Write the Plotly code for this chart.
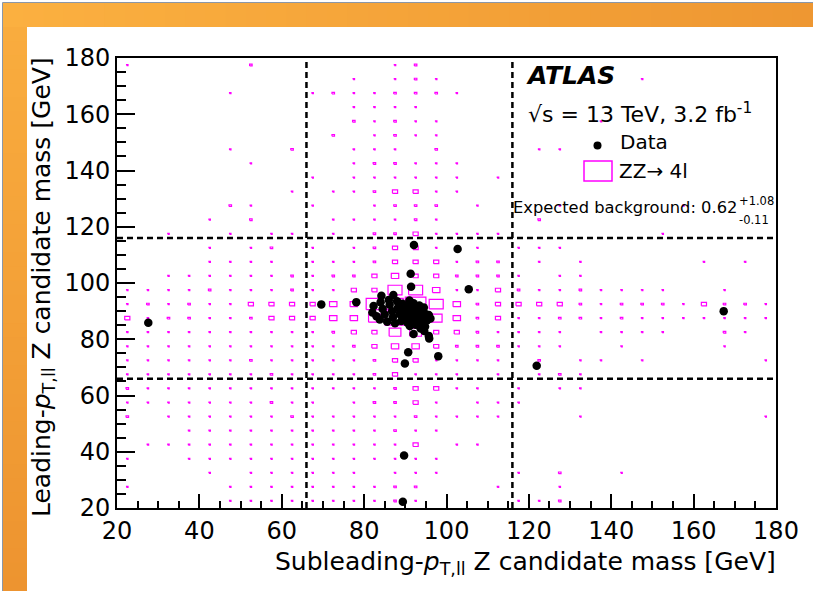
import math
import plotly.graph_objects as go

# ---------------- data ----------------
bin_lo = 20.0
bin_width = 5.0
n_bins = 32
bin_centers = [bin_lo + bin_width * (k + 0.5) for k in range(n_bins)]

# ZZ -> 4l expectation, box-level per (x,y) bin; rows listed from top (y=177.5) to bottom (y=22.5)
zz_grid = [
    "20000030" "00000230" "00000000" "00000000",
    "00000000" "00020232" "00000000" "02000000",
    "00000200" "02322333" "20000000" "00000000",
    "00000000" "00022220" "00000000" "00000000",
    "00000000" "00032322" "00000002" "00000000",
    "00000000" "00302322" "00000000" "00000000",
    "00000200" "30022203" "00002200" "00000000",
    "00000020" "00023322" "20000000" "00000000",
    "00000000" "02022222" "20200000" "00000000",
    "00000000" "20223442" "20000000" "00000000",
    "00000320" "02002333" "02000200" "00020000",
    "00002030" "00222232" "00003000" "00000000",
    "00200202" "20203342" "22200000" "00200000",
    "00002023" "02023442" "22022200" "00000000",
    "00002222" "02223444" "23302020" "00002020",
    "00222222" "32334544" "33320220" "00000000",
    "22223222" "32244775" "22432232" "22200200",
    "23232244" "44558897" "53444432" "33324332",
    "42332234" "44556986" "53422332" "32222222",
    "22222222" "22344664" "43222202" "22200320",
    "22222222" "22234554" "33322200" "20000200",
    "22222232" "22223442" "22203022" "02000002",
    "22222223" "22223422" "20202320" "00000000",
    "32222222" "22222344" "22020220" "00000000",
    "22222223" "22023342" "02220000" "00000000",
    "30222222" "32222232" "22200020" "00000002",
    "00022222" "22222322" "00000000" "00000000",
    "02222222" "22222240" "22000000" "00000000",
    "20022222" "22222222" "00000000" "00000000",
    "00002022" "22220222" "00020300" "20000000",
    "20000222" "22222330" "00200200" "00000000",
    "00000222" "22222320" "00022300" "00000000",
]
# expected content for each level index
zz_level_content = [0.0, 0.01, 0.02, 0.06, 0.25, 0.52, 1.3, 1.85, 2.56, 4.0]

data_x = [27.6, 69.6, 78.1, 92.1, 102.7, 105.4, 91.3, 91.4, 84.2, 87.1, 167.3, 121.9,
          89.7, 89.4, 91.1, 92.0, 93.7, 94.8, 94.6, 95.7, 95.8, 90.7, 89.9, 98.0,
          82.3, 82.0, 83.0, 83.8, 84.5, 85.0, 85.6, 86.2, 86.8, 87.0, 87.5, 88.2, 88.6,
          89.0, 89.3, 89.8, 90.2, 90.5, 90.9, 91.3, 91.6, 92.0, 92.4, 92.7, 93.0, 93.4,
          93.8, 94.2, 94.5, 94.9, 95.3, 95.7, 96.1, 88.0, 91.0, 86.0, 84.0, 92.5, 94.0]
data_y = [85.9, 92.4, 93.2, 113.5, 112.1, 97.8, 103.3, 98.7, 95.5, 95.7, 90.0, 70.6,
          38.7, 22.2, 84.7, 81.9, 83.8, 84.5, 82.9, 81.2, 80.3, 75.4, 71.4, 74.0,
          91.8, 89.5, 88.2, 87.0, 90.8, 88.8, 86.2, 92.3, 90.0, 87.8, 85.7, 91.2, 89.0,
          86.5, 92.6, 90.4, 88.0, 85.9, 91.8, 89.6, 87.3, 92.8, 90.9, 88.6, 86.4, 92.0,
          89.9, 87.7, 91.3, 89.0, 86.8, 88.6, 87.4, 93.5, 93.8, 94.0, 93.2, 85.2, 85.5]

mass_cuts = [66, 116]
x_range = [20, 180]
y_range = [20, 180]

# ---------------- figure ----------------
W, H = 813, 591
PL, PR, PT, PB = 117, 776, 58, 508
FONT = "DejaVu Sans"


def px_x(px):
    return (px - PL) / (PR - PL)


def px_y(py):
    return (PB - py) / (PB - PT)


fig = go.Figure()

# ZZ boxes
zmax = max(zz_level_content)
bx, by = [], []
n_rows = len(zz_grid)
for r, row in enumerate(zz_grid):
    jy = n_rows - 1 - r
    for ix, ch in enumerate(row):
        lev = int(ch)
        c = zz_level_content[lev]
        if c <= 0:
            continue
        f = math.sqrt(c / zmax)
        hx = 0.5 * bin_width * f
        xc, yc = bin_centers[ix], bin_centers[jy]
        bx += [xc - hx, xc + hx, xc + hx, xc - hx, xc - hx, None]
        by += [yc - hx, yc - hx, yc + hx, yc + hx, yc - hx, None]

fig.add_trace(go.Scatter(x=bx, y=by, mode="lines", line=dict(color="#FF00FF", width=1.2),
                         hoverinfo="skip", showlegend=False))

fig.add_trace(go.Scatter(x=data_x, y=data_y, mode="markers",
                         marker=dict(color="black", size=8.5, line=dict(width=0)),
                         showlegend=False))

shapes = []
# orange slide frame
top_c0 = (251, 176, 64)
top_c1 = (238, 151, 50)
nst = 40
for k in range(nst):
    t = k / (nst - 1)
    col = "rgb(%d,%d,%d)" % tuple(round(a + (b - a) * t) for a, b in zip(top_c0, top_c1))
    x0 = 3 + (W - 3) * k / nst
    x1 = 3 + (W - 3) * (k + 1) / nst + 1
    shapes.append(dict(type="rect", xref="paper", yref="paper", layer="below",
                       x0=px_x(x0), x1=px_x(x1), y0=px_y(27), y1=px_y(3),
                       line=dict(width=0), fillcolor=col))
left_c0 = (249, 172, 62)
left_c1 = (237, 148, 48)
for k in range(nst):
    t = k / (nst - 1)
    col = "rgb(%d,%d,%d)" % tuple(round(a + (b - a) * t) for a, b in zip(left_c0, left_c1))
    y0 = 27 + (H - 27) * k / nst
    y1 = 27 + (H - 27) * (k + 1) / nst + 1
    shapes.append(dict(type="rect", xref="paper", yref="paper", layer="below",
                       x0=px_x(3), x1=px_x(27), y0=px_y(y1), y1=px_y(y0),
                       line=dict(width=0), fillcolor=col))
shapes.append(dict(type="line", xref="paper", yref="paper", layer="below",
                   x0=px_x(2.5), x1=px_x(W), y0=px_y(2.5), y1=px_y(2.5),
                   line=dict(color="#8a97a8", width=1)))
shapes.append(dict(type="line", xref="paper", yref="paper", layer="below",
                   x0=px_x(2.5), x1=px_x(2.5), y0=px_y(2.5), y1=px_y(H),
                   line=dict(color="#8a97a8", width=1)))

# mass window dashed lines
for v in mass_cuts:
    shapes.append(dict(type="line", xref="x", yref="y", x0=v, x1=v, y0=y_range[0], y1=y_range[1],
                       line=dict(color="black", width=2.5, dash="6px,4px")))
    shapes.append(dict(type="line", xref="x", yref="y", x0=x_range[0], x1=x_range[1], y0=v, y1=v,
                       line=dict(color="black", width=2.5, dash="6px,4px")))

# legend symbols
shapes.append(dict(type="circle", xref="paper", yref="paper",
                   x0=px_x(593.5), x1=px_x(601.5), y0=px_y(149.5), y1=px_y(141.5),
                   fillcolor="black", line=dict(width=0)))
shapes.append(dict(type="rect", xref="paper", yref="paper",
                   x0=px_x(584), x1=px_x(612), y0=px_y(181), y1=px_y(161),
                   line=dict(color="#FF00FF", width=1.5)))

ann = []


def text(s, x, y, size, xanchor="left", yanchor="middle", **kw):
    ann.append(dict(text=s, xref="paper", yref="paper", x=px_x(x), y=px_y(y),
                    xanchor=xanchor, yanchor=yanchor, showarrow=False,
                    font=dict(family=FONT, size=size, color="black"), **kw))


text("<b><i>ATLAS</i></b>", 524, 75, 25)
text("√s = 13 TeV, 3.2 fb<sup>-1</sup>", 526, 113, 22)
text("Data", 618, 142, 20)
text("ZZ→ 4l", 617, 170.5, 20)
text("Expected background: 0.62", 511, 207, 16.3)
text("+1.08", 737, 201, 11.5)
text("-0.11", 737, 220, 11.5)

text("Subleading-<i>p</i><sub>T,ll</sub> Z candidate mass [GeV]", 778, 545, 25,
     xanchor="right", yanchor="top")
text("Leading-<i>p</i><sub>T,ll</sub> Z candidate mass [GeV]", 43, 55, 25,
     xanchor="center", yanchor="top", textangle=-90)

axis_common = dict(showline=True, linecolor="black", linewidth=2, mirror=True,
                   ticks="inside", tickcolor="black", tickwidth=1.5,
                   showgrid=False, zeroline=False,
                   tickfont=dict(family=FONT, size=24, color="black"))

fig.update_layout(
    width=W, height=H,
    margin=dict(l=PL, r=W - PR, t=PT, b=H - PB, pad=0),
    paper_bgcolor="white", plot_bgcolor="white",
    showlegend=False,
    shapes=shapes, annotations=ann,
    xaxis=dict(range=x_range, tick0=20, dtick=20, ticklen=14,
               minor=dict(ticks="inside", ticklen=7, dtick=5, tick0=20, tickcolor="black", tickwidth=1.5),
               **axis_common),
    yaxis=dict(range=y_range, tick0=20, dtick=20, ticklen=18,
               minor=dict(ticks="inside", ticklen=9, dtick=5, tick0=20, tickcolor="black", tickwidth=1.5),
               **axis_common),
)

fig.write_html("out.html")
